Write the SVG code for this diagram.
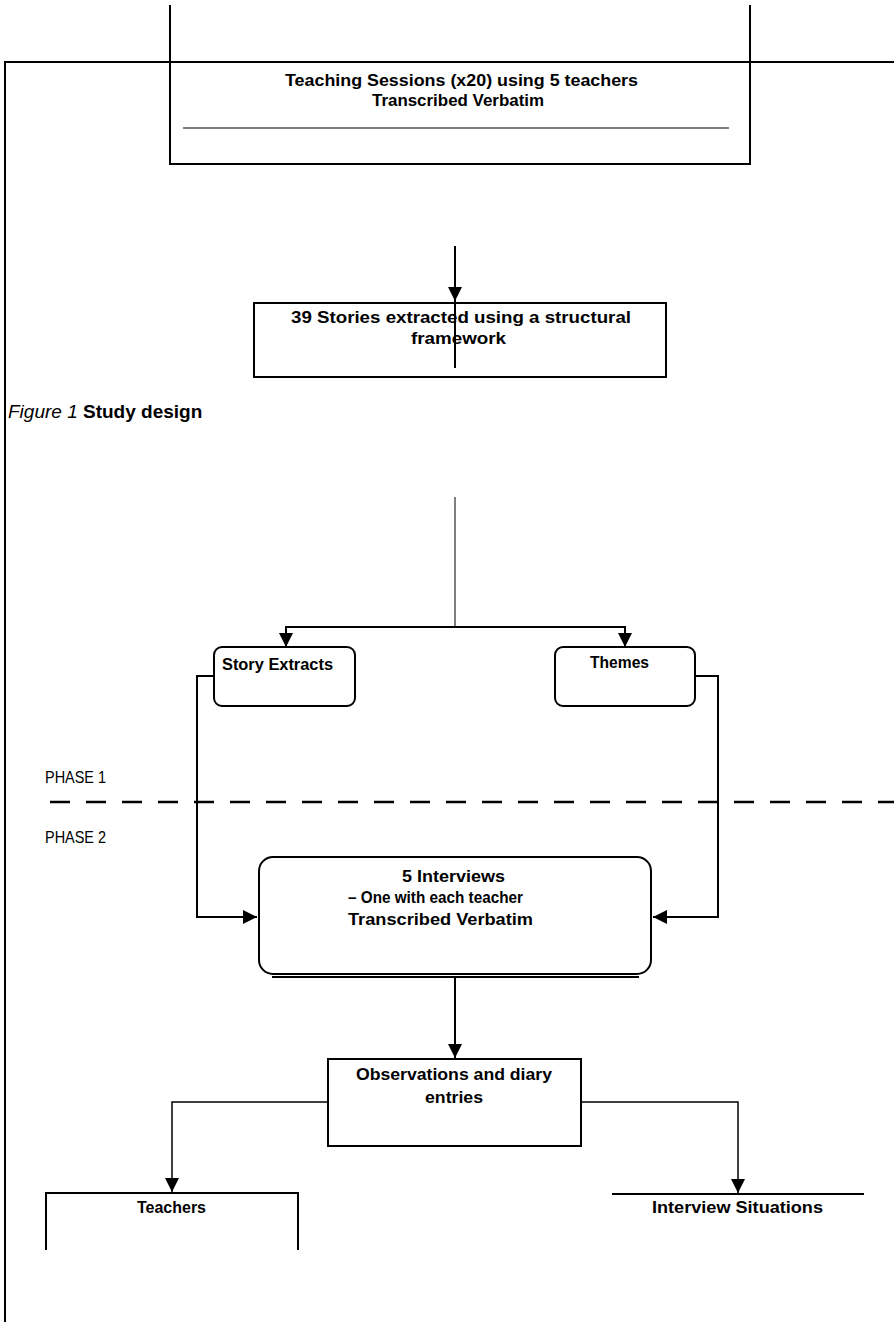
<svg xmlns="http://www.w3.org/2000/svg" width="894" height="1322" viewBox="0 0 894 1322">
<style>
.t{font-family:"Liberation Sans",Arial,sans-serif;font-weight:bold;font-size:16px;fill:#000}
.s{font-family:"Liberation Sans",Arial,sans-serif;font-size:17px;fill:#000}
.b{fill:#fff;stroke:#000;stroke-width:2}
.ln{fill:none;stroke:#000;stroke-width:2}
.thin{fill:none;stroke:#000;stroke-width:1}
.mid{fill:none;stroke:#000;stroke-width:1.5}
</style>
<defs>
<marker id="ah" viewBox="0 0 10 10" refX="10" refY="5" markerWidth="15" markerHeight="14" markerUnits="userSpaceOnUse" orient="auto">
<path d="M0,0 L10,5 L0,10 Z" fill="#000"/>
</marker>
</defs>
<rect width="894" height="1322" fill="#fff"/>
<g id="frame">
<path class="ln" d="M5,1322 V62 H894"/>
</g>
<g id="teaching">
<path class="ln" d="M170,5 V164 H750 V5"/>
<line class="thin" x1="183" y1="128" x2="729" y2="128" stroke="#333"/>
<text class="t" x="285" y="86" textLength="353" lengthAdjust="spacingAndGlyphs">Teaching Sessions (x20) using 5 teachers</text>
<text class="t" x="372" y="106" textLength="172" lengthAdjust="spacingAndGlyphs">Transcribed Verbatim</text>
</g>
<g id="stories">
<rect class="b" x="254" y="303" width="412" height="74"/>
<text class="t" x="291" y="323" font-size="17" textLength="340" lengthAdjust="spacingAndGlyphs">39 Stories extracted using a structural</text>
<text class="t" x="411" y="344" font-size="17" textLength="95" lengthAdjust="spacingAndGlyphs">framework</text>
</g>
<g id="caption">
<text x="8" y="418" font-family="Liberation Sans,Arial,sans-serif" font-size="19" fill="#000"><tspan font-style="italic">Figure 1</tspan> <tspan font-weight="bold">Study design</tspan></text>
</g>
<g id="story-extracts">
<rect class="b" x="214" y="647" width="141" height="59" rx="8"/>
<text class="t" x="222" y="670" font-size="17" textLength="111" lengthAdjust="spacingAndGlyphs">Story Extracts</text>
</g>
<g id="themes">
<rect class="b" x="555" y="647" width="140" height="59" rx="8"/>
<text class="t" x="590" y="668" font-size="17" textLength="59" lengthAdjust="spacingAndGlyphs">Themes</text>
</g>
<g id="phases">
<text class="s" x="45" y="783" textLength="61" lengthAdjust="spacingAndGlyphs">PHASE 1</text>
<text class="s" x="45" y="843" textLength="61" lengthAdjust="spacingAndGlyphs">PHASE 2</text>
</g>
<g id="interviews">
<rect class="b" x="259" y="857" width="392" height="117" rx="14"/>
<line class="ln" x1="272" y1="977" x2="639" y2="977"/>
<text class="t" x="402" y="882" font-size="17" textLength="103" lengthAdjust="spacingAndGlyphs">5 Interviews</text>
<text class="t" x="348" y="903" font-size="17" textLength="175" lengthAdjust="spacingAndGlyphs">– One with each teacher</text>
<text class="t" x="348" y="925" font-size="17" textLength="185" lengthAdjust="spacingAndGlyphs">Transcribed Verbatim</text>
</g>
<g id="observations">
<rect class="b" x="328" y="1059" width="253" height="87"/>
<text class="t" x="356" y="1080" font-size="17" textLength="196" lengthAdjust="spacingAndGlyphs">Observations and diary</text>
<text class="t" x="425" y="1103" font-size="17" textLength="58" lengthAdjust="spacingAndGlyphs">entries</text>
</g>
<g id="teachers">
<path class="ln" d="M46,1250 V1193 H298 V1250"/>
<text class="t" x="137" y="1213" font-size="17" textLength="69" lengthAdjust="spacingAndGlyphs">Teachers</text>
</g>
<g id="interview-situations">
<line class="ln" x1="612" y1="1194" x2="864" y2="1194"/>
<text class="t" x="652" y="1213" font-size="17" textLength="171" lengthAdjust="spacingAndGlyphs">Interview Situations</text>
</g>
<g id="connectors">
<line class="ln" x1="455" y1="246" x2="455" y2="301" marker-end="url(#ah)"/>
<line class="ln" x1="455" y1="300" x2="455" y2="368"/>
<line class="thin" x1="455" y1="497" x2="455" y2="627"/>
<path class="ln" d="M286,646 V627 H625 V646"/>
<line class="ln" x1="286" y1="632" x2="286" y2="647" marker-end="url(#ah)"/>
<line class="ln" x1="625" y1="632" x2="625" y2="647" marker-end="url(#ah)"/>
<line x1="50" y1="802" x2="894" y2="802" stroke="#000" stroke-width="2.5" stroke-dasharray="20,16"/>
<path class="ln" d="M214,676 H197 V917 H257" marker-end="url(#ah)"/>
<path class="ln" d="M695,676 H718 V917 H653" marker-end="url(#ah)"/>
<line class="ln" x1="455" y1="977" x2="455" y2="1058" marker-end="url(#ah)"/>
<path class="mid" d="M328,1102 H172 V1192" marker-end="url(#ah)"/>
<path class="mid" d="M581,1102 H738 V1193" marker-end="url(#ah)"/>
</g>
</svg>
